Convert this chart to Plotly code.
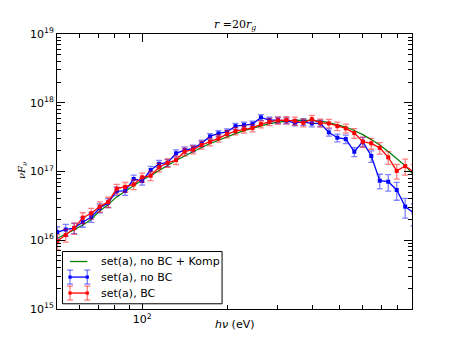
import plotly.graph_objects as go

# photon energies (eV), same grid for all three curves
energy = [50.12, 53.70, 57.54, 61.66, 66.07, 70.79, 75.86, 81.28, 87.10, 93.33,
          100.0, 107.2, 114.8, 123.0, 131.8, 141.3, 151.4, 162.2, 173.8, 186.2,
          199.5, 213.8, 229.1, 245.5, 263.0, 281.8, 302.0, 323.6, 346.7, 371.5,
          398.1, 426.6, 457.1, 489.8, 524.8, 562.3, 602.6, 645.7, 691.8, 741.3,
          794.3, 851.1, 912.0]

# set(a), no BC + Komp
komp = [1.07e16, 1.22e16, 1.42e16, 1.67e16, 2.01e16, 2.67e16, 3.32e16, 4.27e16, 5.21e16, 6.27e16,
        7.53e16, 8.75e16, 1.04e17, 1.22e17, 1.45e17, 1.68e17, 1.95e17, 2.23e17, 2.55e17, 2.86e17,
        3.22e17, 3.56e17, 3.94e17, 4.28e17, 4.65e17, 4.98e17, 5.23e17, 5.41e17, 5.53e17, 5.59e17,
        5.53e17, 5.41e17, 5.14e17, 4.81e17, 4.43e17, 3.94e17, 3.44e17, 2.91e17, 2.43e17, 1.95e17,
        1.55e17, 1.21e17, 8.9e16]

# set(a), no BC
nobc = [1.31e16, 1.43e16, 1.50e16, 1.84e16, 2.16e16, 2.95e16, 3.51e16, 5.18e16, 5.21e16, 7.78e16,
        7.28e16, 1.05e17, 1.29e17, 1.34e17, 1.84e17, 2.05e17, 2.17e17, 2.57e17, 3.24e17, 3.58e17,
        3.78e17, 4.57e17, 4.73e17, 4.89e17, 6.12e17, 5.59e17, 5.59e17, 5.46e17, 5.11e17, 5.28e17,
        5.01e17, 5.01e17, 3.71e17, 3.10e17, 2.96e17, 1.94e17, 2.71e17, 1.68e17, 7.35e16, 7.11e16,
        5.38e16, 3.08e16, 2.50e16]
nobc_err = [0.20, 0.19, 0.17, 0.16, 0.16, 0.15, 0.15, 0.14, 0.14, 0.14, 0.13,
            0.13, 0.12, 0.12, 0.12, 0.11, 0.11, 0.11, 0.10, 0.10, 0.10,
            0.10, 0.10, 0.10, 0.10, 0.10, 0.10, 0.10, 0.10, 0.11, 0.11, 0.11,
            0.12, 0.13, 0.14, 0.15, 0.16, 0.19, 0.24, 0.27, 0.29, 0.32, 0.35]

# set(a), BC
bc = [9.64e15, 1.19e16, 1.50e16, 2.13e16, 2.47e16, 3.08e16, 3.61e16, 5.61e16, 5.96e16, 6.48e16,
      8.24e16, 8.69e16, 1.15e17, 1.34e17, 1.47e17, 1.94e17, 2.08e17, 2.43e17, 2.71e17, 3.03e17,
      3.50e17, 3.87e17, 4.10e17, 4.28e17, 4.89e17, 5.28e17, 5.53e17, 5.59e17, 5.46e17, 5.11e17,
      5.78e17, 5.11e17, 5.01e17, 4.57e17, 4.24e17, 3.62e17, 2.71e17, 2.57e17, 2.21e17, 1.61e17,
      1.02e17, 1.20e17, 9.84e16]
bc_err = [0.24, 0.21, 0.19, 0.18, 0.18, 0.17, 0.17, 0.16, 0.16, 0.16, 0.15,
          0.15, 0.14, 0.14, 0.14, 0.13, 0.13, 0.13, 0.13, 0.12, 0.12,
          0.12, 0.12, 0.12, 0.12, 0.12, 0.12, 0.12, 0.13, 0.13, 0.13, 0.13,
          0.14, 0.14, 0.15, 0.16, 0.17, 0.18, 0.19, 0.21, 0.24, 0.26, 0.28]

x_minor = [60, 70, 80, 90, 200, 300, 400, 500, 600, 700, 800, 900]
y_major = [1e15, 1e16, 1e17, 1e18, 1e19]
y_labels = ["10<sup>15</sup>", "10<sup>16</sup>", "10<sup>17</sup>", "10<sup>18</sup>", "10<sup>19</sup>"]
y_minor = [m * 10 ** e for e in range(15, 19) for m in range(2, 10)]

legend_names = ["set(a), no BC + Komp", "set(a), no BC", "set(a), BC"]
legend_cols = ["green", "blue", "red"]
bar_cols = [None, "rgba(0,0,255,0.5)", "rgba(255,0,0,0.5)"]

fig = go.Figure()

fig.add_trace(go.Scatter(x=energy, y=komp, mode="lines", showlegend=False,
                         line=dict(color="green", width=1.2)))

def with_errors(vals, frac, col, bar_col):
    sig = [v * f for v, f in zip(vals, frac)]
    return go.Scatter(x=energy, y=vals, mode="lines+markers", showlegend=False,
                      line=dict(color=col, width=1.3),
                      marker=dict(color=col, size=4, symbol="square"),
                      error_y=dict(type="data", array=sig, color=bar_col, thickness=1.3, width=3))

fig.add_trace(with_errors(nobc, nobc_err, "blue", bar_cols[1]))
fig.add_trace(with_errors(bc, bc_err, "red", bar_cols[2]))

fig.update_xaxes(type="log", range=[1.699, 2.954], automargin=False,
                 tickvals=[100], ticktext=["10<sup>2</sup>"], ticks="inside", ticklen=8,
                 minor=dict(tickmode="array", tickvals=x_minor, ticks="inside", ticklen=4, tickcolor="black"),
                 showgrid=False, zeroline=False, showline=True, linecolor="black", linewidth=1,
                 mirror="ticks", tickcolor="black",
                 tickfont=dict(family="DejaVu Sans", size=11, color="black"))
fig.update_yaxes(type="log", range=[15, 19], automargin=False,
                 tickvals=y_major, ticktext=y_labels, ticks="inside", ticklen=8,
                 minor=dict(tickmode="array", tickvals=y_minor, ticks="inside", ticklen=4, tickcolor="black"),
                 showgrid=False, zeroline=False, showline=True, linecolor="black", linewidth=1,
                 mirror="ticks", tickcolor="black",
                 tickfont=dict(family="DejaVu Sans", size=11, color="black"))

# title and axis labels
fig.add_annotation(x=0.5, y=1, xref="paper", yref="paper", xanchor="center", yanchor="bottom",
                   text="<i>r</i> =20<i>r</i><sub><i>g</i></sub>", showarrow=False,
                   font=dict(family="DejaVu Serif", size=11, color="black"))
fig.add_annotation(x=0.5, y=-0.057, xref="paper", yref="paper", xanchor="center", yanchor="middle",
                   text="<i>hν</i> (eV)", showarrow=False,
                   font=dict(family="DejaVu Sans", size=11, color="black"))
fig.add_annotation(x=-0.099, y=0.505, xref="paper", yref="paper", xanchor="center", yanchor="middle",
                   text="<i>νF</i><sub><i>ν</i></sub>", showarrow=False, textangle=-90,
                   font=dict(family="DejaVu Serif", size=10, color="black"))

# legend box drawn by hand (matplotlib style, with error-bar glyphs)
fig.add_shape(type="rect", xref="paper", yref="paper", x0=0.0155, x1=0.465, y0=0.019, y1=0.209,
              line=dict(color="black", width=1), fillcolor="white", layer="above")
ent_y = [0.1727, 0.1161, 0.058]
sx0, sx1, tx = 0.0366, 0.0853, 0.119
dy, cap, ms = 0.0254, 0.0085, 0.0045
for name, col, bcol, yy in zip(legend_names, legend_cols, bar_cols, ent_y):
    fig.add_shape(type="line", xref="paper", yref="paper", x0=sx0, x1=sx1, y0=yy, y1=yy,
                  line=dict(color=col, width=1.3), layer="above")
    if bcol:
        for xx in (sx0, sx1):
            fig.add_shape(type="line", xref="paper", yref="paper", x0=xx, x1=xx, y0=yy - dy, y1=yy + dy,
                          line=dict(color=bcol, width=1.3), layer="above")
            for cy in (yy - dy, yy + dy):
                fig.add_shape(type="line", xref="paper", yref="paper", x0=xx - cap, x1=xx + cap, y0=cy, y1=cy,
                              line=dict(color=bcol, width=1.3), layer="above")
            fig.add_shape(type="rect", xref="paper", yref="paper", x0=xx - ms, x1=xx + ms,
                          y0=yy - ms * 1.29, y1=yy + ms * 1.29,
                          line=dict(width=0), fillcolor=col, layer="above")
    fig.add_annotation(x=tx, y=yy, xref="paper", yref="paper", xanchor="left", yanchor="middle",
                       text=name, showarrow=False,
                       font=dict(family="DejaVu Sans", size=11, color="black"))

fig.update_layout(width=458, height=345, margin=dict(l=57, r=46, t=34, b=36),
                  plot_bgcolor="white", paper_bgcolor="white", showlegend=False)

# drop the default 8px page margin so the figure sits at the window's corner
fig.write_html("out.html", config={"displayModeBar": False},
               post_script="document.body.style.margin='0';")
